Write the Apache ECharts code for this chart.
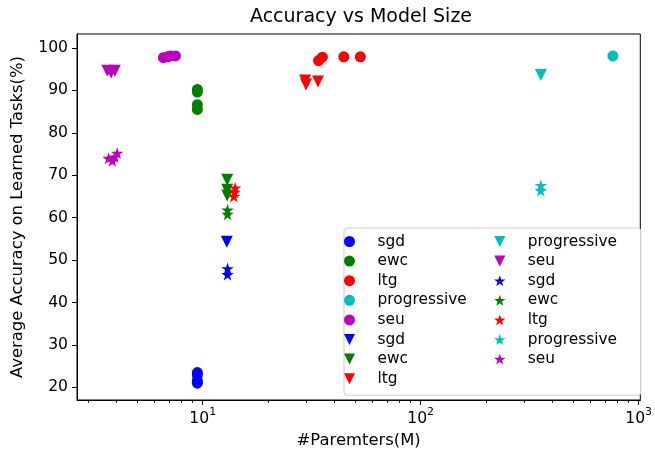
<!DOCTYPE html>
<html>
<head>
<meta charset="utf-8">
<script src="https://cdn.jsdelivr.net/npm/echarts@6.0.0/dist/echarts.min.js"></script>
<style>
html,body{margin:0;padding:0;background:#fff;}
#main{width:655px;height:454px;}
</style>
</head>
<body>
<div id="main"></div>
<script>
/* global echarts */
// circles
var sgd_o = [[9.45, 23.5], [9.45, 22.9], [9.45, 21.6], [9.45, 21.0]];
var ewc_o = [[9.45, 90.2], [9.45, 89.6], [9.45, 86.6], [9.45, 85.5]];
var ltg_o = [[34.0, 97.0], [35.4, 97.8], [44.4, 97.9], [52.9, 97.9]];
var prog_o = [[762, 98.1]];
var seu_o = [[6.6, 97.7], [6.9, 97.9], [7.1, 98.1], [7.5, 98.1]];
// triangles
var sgd_v = [[12.9, 54.3]];
var ewc_v = [[12.95, 68.9], [12.95, 66.6], [12.95, 65.2]];
var ltg_v = [[29.5, 92.3], [29.8, 91.4], [33.8, 92.1]];
var prog_v = [[356, 93.6]];
var seu_v = [[3.65, 94.6], [3.8, 94.2], [3.95, 94.6]];
// stars
var sgd_s = [[13.0, 48.0], [13.0, 46.6]];
var ewc_s = [[13.0, 61.8], [13.0, 60.8]];
var ltg_s = [[14.1, 67.0], [14.0, 66.0], [13.9, 65.0]];
var prog_s = [[356, 67.6], [356, 66.4]];
var seu_s = [[3.7, 74.0], [3.85, 73.4], [3.95, 74.3], [4.05, 75.2]];

var yTicks = [20, 30, 40, 50, 60, 70, 80, 90, 100];
var xTicks = [10, 100, 1000];
var xMinor = [3, 4, 5, 6, 7, 8, 9, 20, 30, 40, 50, 60, 70, 80, 90, 200, 300, 400, 500, 600, 700, 800, 900];

var FONT = 'DejaVu Sans';
var TRI = 'path://M-100,-100 L100,-100 L0,100 Z';
var STAR = 'path://M0,-100 L22.45,-30.9 L95.11,-30.9 L36.33,11.8 L58.78,80.9 L0,38.2 L-58.78,80.9 L-36.33,11.8 L-95.11,-30.9 L-22.45,-30.9 Z';

function mk(name, data, color, symbol, size) {
    return {
        name: name,
        type: 'scatter',
        data: data,
        symbol: symbol,
        symbolSize: size,
        itemStyle: {color: color, opacity: 1},
        emphasis: {disabled: true}
    };
}

var series = [
    mk('sgd|o', sgd_o, '#0000ff', 'circle', 11),
    mk('ewc|o', ewc_o, '#008000', 'circle', 11),
    mk('ltg|o', ltg_o, '#ff0000', 'circle', 11),
    mk('progressive|o', prog_o, '#00bfbf', 'circle', 11),
    mk('seu|o', seu_o, '#bf00bf', 'circle', 11),
    mk('sgd|v', sgd_v, '#0000ff', TRI, [12, 12]),
    mk('ewc|v', ewc_v, '#008000', TRI, [12, 12]),
    mk('ltg|v', ltg_v, '#ff0000', TRI, [12, 12]),
    mk('progressive|v', prog_v, '#00bfbf', TRI, [12, 12]),
    mk('seu|v', seu_v, '#bf00bf', TRI, [12, 12]),
    mk('sgd|s', sgd_s, '#0000ff', STAR, [12.5, 12]),
    mk('ewc|s', ewc_s, '#008000', STAR, [12.5, 12]),
    mk('ltg|s', ltg_s, '#ff0000', STAR, [12.5, 12]),
    mk('progressive|s', prog_s, '#00bfbf', STAR, [12.5, 12]),
    mk('seu|s', seu_s, '#bf00bf', STAR, [12.5, 12])
];

var names = series.map(function (s) { return s.name; });

var legendBase = {
    orient: 'vertical',
    itemWidth: 46,
    itemHeight: 11,
    itemGap: 4.6,
    selectedMode: false,
    textStyle: {fontFamily: FONT, fontSize: 15.4, color: '#000', lineHeight: 15},
    formatter: function (n) { return n.split('|')[0]; }
};

var myChart = echarts.init(document.getElementById('main'), null, {renderer: 'canvas'});

var option = {
    animation: false,
    title: {
        text: 'Accuracy vs Model Size',
        left: 250,
        top: 8,
        padding: 0,
        textStyle: {fontFamily: FONT, fontSize: 19, fontWeight: 'normal', color: '#000'}
    },
    legend: [
        Object.assign({}, legendBase, {
            data: names.slice(0, 8),
            left: 344,
            top: 228,
            padding: [6, 174, 9, 0],
            backgroundColor: '#fff',
            borderColor: '#cccccc',
            borderWidth: 1,
            borderRadius: 3
        }),
        Object.assign({}, legendBase, {
            data: names.slice(8),
            left: 494,
            top: 234,
            padding: 0
        })
    ],
    grid: {
        left: 77, right: 10, top: 34, bottom: 51,
        show: true, borderColor: '#000', borderWidth: 1, backgroundColor: 'transparent'
    },
    xAxis: [
        {
            type: 'log',
            min: 2.65,
            max: 1018,
            name: '#Paremters(M)',
            nameLocation: 'middle',
            nameGap: 33,
            nameTextStyle: {fontFamily: FONT, fontSize: 16.4, color: '#000'},
            axisLine: {lineStyle: {color: '#000', width: 1}},
            axisTick: {customValues: xTicks, length: 5, lineStyle: {color: '#000'}},
            axisLabel: {
                customValues: xTicks,
                margin: 7,
                formatter: function (v) {
                    return '{b|10}{e|' + Math.round(Math.log10(v)) + '}';
                },
                rich: {
                    b: {fontFamily: FONT, fontSize: 15.6, color: '#000', lineHeight: 20, verticalAlign: 'bottom'},
                    e: {fontFamily: FONT, fontSize: 10.9, color: '#000', lineHeight: 12, verticalAlign: 'top'}
                }
            },
            splitLine: {show: false},
            minorTick: {show: false}
        },
        {
            // minor ticks
            type: 'log',
            min: 2.65,
            max: 1018,
            position: 'bottom',
            axisLine: {show: false},
            axisTick: {customValues: xMinor, length: 3, lineStyle: {color: '#000', width: 0.8}},
            axisLabel: {show: false},
            splitLine: {show: false}
        }
    ],
    yAxis: {
        type: 'value',
        min: 17.03,
        max: 103.27,
        name: 'Average Accuracy on Learned Tasks(%)',
        nameLocation: 'middle',
        nameGap: 51,
        nameTextStyle: {fontFamily: FONT, fontSize: 16.4, color: '#000'},
        axisLine: {show: true, lineStyle: {color: '#000', width: 1}},
        axisTick: {show: true, customValues: yTicks, length: 5, lineStyle: {color: '#000'}},
        axisLabel: {customValues: yTicks, margin: 9, fontFamily: FONT, fontSize: 15.6, color: '#000'},
        splitLine: {show: false}
    },
    series: series
};

myChart.setOption(option);
</script>
</body>
</html>
